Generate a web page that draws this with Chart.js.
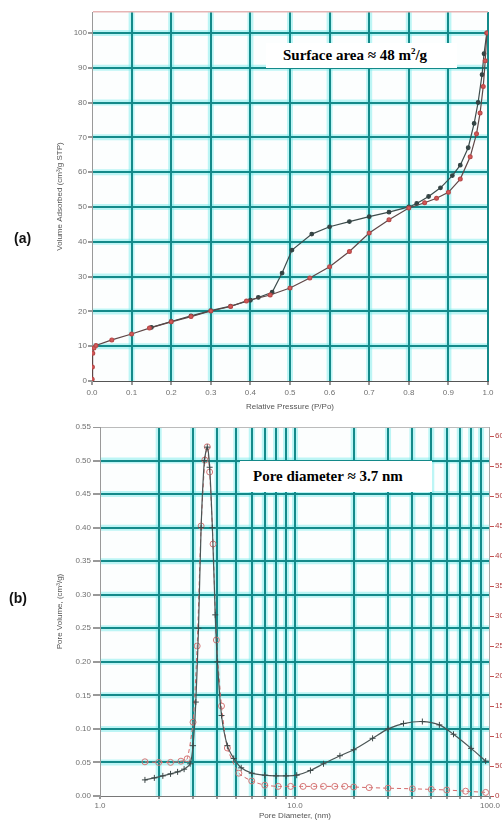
<!DOCTYPE html>
<html lang="en">
<head>
<meta charset="UTF-8">
<title>N2 isotherm and pore size distribution</title>
<script src="https://cdn.jsdelivr.net/npm/chart.js"></script>
<style>
  body { margin: 0; background: #fff; font-family: "Liberation Sans", Arial, sans-serif; }
  #wrap { position: relative; width: 502px; height: 825px; overflow: hidden; }
  canvas { position: absolute; left: 0; }
  #chartA { top: 0; }
  #chartB { top: 415px; }
  .tag { position: absolute; font-weight: bold; font-size: 14px; color: #111; }
  .note { position: absolute; background: #fff; color: #000; white-space: nowrap;
          font-family: "Liberation Serif", "Times New Roman", serif; font-weight: bold; font-size: 15px; }
  .note sup { font-size: 9px; vertical-align: 6px; line-height: 0; }
</style>
</head>
<body>
<div id="wrap">
  <canvas id="chartA" width="502" height="415"></canvas>
  <canvas id="chartB" width="502" height="410"></canvas>
  <div class="tag" style="left:14px; top:230px;">(a)</div>
  <div class="tag" style="left:9px; top:590px;">(b)</div>
  <div class="note" style="left:266px; top:43px; width:174px; height:25px; line-height:25px; padding-left:17px;">Surface area ≈ 48 m<sup>2</sup>/g</div>
  <div class="note" style="left:240px; top:461px; width:179px; height:31px; line-height:31px; padding-left:13px;">Pore diameter ≈ 3.7 nm</div>
</div>

<script>
// (a) isotherm, relative pressure vs volume adsorbed
const adsP = [0.0005, 0.001, 0.002, 0.005, 0.01, 0.05, 0.1, 0.145, 0.2, 0.25, 0.3, 0.35, 0.39, 0.45, 0.5, 0.55, 0.6, 0.65, 0.7, 0.75, 0.8, 0.84, 0.87, 0.9, 0.93, 0.955, 0.971, 0.98, 0.988, 0.993, 0.997];
const adsV = [0.5, 4, 8, 9.5, 10.2, 11.8, 13.5, 15.2, 17, 18.5, 20.1, 21.4, 23, 24.7, 26.7, 29.6, 32.8, 37.2, 42.5, 46.3, 49.7, 51.2, 52.5, 54.2, 58, 64.4, 71, 77, 84.6, 92, 100];
const desP = [0.997, 0.99, 0.985, 0.975, 0.965, 0.95, 0.93, 0.91, 0.88, 0.85, 0.82, 0.8, 0.75, 0.7, 0.65, 0.6, 0.555, 0.505, 0.48, 0.455, 0.42, 0.4, 0.35, 0.3, 0.25, 0.2, 0.15];
const desV = [100, 94, 88, 80, 74, 67, 62, 59, 55.5, 53, 51, 50, 48.5, 47.2, 45.8, 44.3, 42.2, 37.6, 31, 25.5, 24, 23.2, 21.5, 20.2, 18.7, 17.1, 15.4];
const xTicksA = [0, 0.1, 0.2, 0.3, 0.4, 0.5, 0.6, 0.7, 0.8, 0.9, 1.0];
const yTicksA = [0, 10, 20, 30, 40, 50, 60, 70, 80, 90, 100, 106];

// (b) pore size distribution
const psdD = [1.7, 1.9, 2.1, 2.3, 2.5, 2.7, 2.9, 3.0, 3.1, 3.2, 3.3, 3.43, 3.55, 3.65, 3.77, 3.9, 4.0, 4.2, 4.5, 4.85, 5.3, 6.0, 7.0, 8.0, 9.0, 10.2, 12, 14, 17, 20, 25, 30, 36, 45, 55, 65, 80, 95];
const psdV = [0.024, 0.027, 0.030, 0.033, 0.036, 0.040, 0.048, 0.075, 0.14, 0.25, 0.40, 0.50, 0.52, 0.49, 0.40, 0.27, 0.20, 0.12, 0.075, 0.056, 0.042, 0.034, 0.031, 0.030, 0.030, 0.031, 0.038, 0.048, 0.060, 0.069, 0.086, 0.100, 0.108, 0.111, 0.106, 0.092, 0.071, 0.052];
const redD = [1.7, 2.0, 2.3, 2.6, 2.8, 3.0, 3.15, 3.3, 3.45, 3.55, 3.65, 3.8, 3.95, 4.2, 4.5, 5.15, 6.0, 7.0, 8.2, 9.5, 11, 12.5, 14, 16, 18, 20, 24, 30, 40, 50, 60, 75, 95];
const redV = [57, 56, 56, 58, 62, 123, 250, 450, 560, 582, 540, 420, 260, 150, 80, 38, 25, 18, 16, 16, 16, 16, 16, 16, 16, 15, 14, 13, 12, 11, 10, 8, 6];
const xTicksB = [1, 2, 3, 4, 5, 6, 7, 8, 9, 10, 20, 30, 40, 50, 60, 70, 80, 90, 100];
const xLabelsB = [1, 10, 100];
const yTicksB = [0, 0.05, 0.10, 0.15, 0.20, 0.25, 0.30, 0.35, 0.40, 0.45, 0.50, 0.55];
const y2TicksB = [0, 50, 100, 150, 200, 250, 300, 350, 400, 450, 500, 550, 600];

const TEAL = '#148a8a';
const tickFont = { family: 'Liberation Sans', size: 8 };
const titleFont = { family: 'Liberation Sans', size: 8 };

// white plot area plus a soft cyan glow under every grid line
Chart.register({
    id: 'plotBg',
    beforeDraw(chart, args, opts) {
        const a = chart.chartArea;
        const ctx = chart.ctx;
        ctx.save();
        ctx.fillStyle = opts.color || '#fff';
        ctx.fillRect(a.left, a.top, a.right - a.left, a.bottom - a.top);
        ctx.strokeStyle = 'rgba(110, 235, 235, 0.45)';
        ctx.lineWidth = 6;
        Object.values(chart.scales).forEach(s => {
            if (s.options.grid.drawOnChartArea === false) return;
            s.ticks.forEach(t => {
                const p = s.getPixelForValue(t.value);
                ctx.beginPath();
                if (s.isHorizontal()) {
                    if (p <= a.left + 1 || p >= a.right - 1) return;
                    ctx.moveTo(p, a.top); ctx.lineTo(p, a.bottom);
                } else {
                    if (p <= a.top + 1 || p >= a.bottom - 1) return;
                    ctx.moveTo(a.left, p); ctx.lineTo(a.right, p);
                }
                ctx.stroke();
            });
        });
        ctx.restore();
    }
});

function pts(xs, ys) {
    return xs.map((x, i) => ({ x: x, y: ys[i] }));
}

function fixTicks(list) {
    return scale => { scale.ticks = list.map(v => ({ value: v })); };
}

new Chart(document.getElementById('chartA'), {
    type: 'line',
    data: {
        datasets: [{
            label: 'Adsorption',
            data: pts(adsP, adsV),
            borderColor: '#5e4646',
            borderWidth: 1.2,
            pointRadius: 1.9,
            pointBackgroundColor: '#d45a5a',
            pointBorderColor: '#b84848',
            tension: 0
        }, {
            label: 'Desorption',
            data: pts(desP, desV),
            borderColor: '#3c4c4c',
            borderWidth: 1.2,
            pointRadius: 1.8,
            pointBackgroundColor: '#344444',
            pointBorderColor: '#344444',
            tension: 0
        }]
    },
    options: {
        responsive: false,
        animation: false,
        events: [],
        layout: { padding: { left: 52, top: 12, right: 14, bottom: 0 } },
        plugins: { legend: { display: false }, tooltip: { enabled: false }, plotBg: { color: '#fcfefe' } },
        scales: {
            x: {
                type: 'linear', min: 0, max: 1,
                afterBuildTicks: fixTicks(xTicksA),
                afterFit: s => { s.height = 34; },
                ticks: { font: tickFont, color: '#707070', padding: 3, maxRotation: 0, autoSkip: false,
                         callback: v => v.toFixed(1) },
                grid: { color: c => c.tick && c.tick.value === 0 ? 'rgba(0,0,0,0)' : TEAL,
                        lineWidth: 2, tickLength: 4, tickColor: '#999' },
                border: { color: '#555', width: 1 },
                title: { display: true, text: 'Relative Pressure (P/Po)', font: titleFont, color: '#555',
                         padding: { top: 0, bottom: 3 } }
            },
            y: {
                type: 'linear', min: 0, max: 106,
                afterBuildTicks: fixTicks(yTicksA),
                afterFit: s => { s.width = 40; },
                ticks: { font: tickFont, color: '#707070', padding: 1,
                         callback: v => v > 100 ? '' : String(v) },
                grid: { color: c => !c.tick ? TEAL : c.tick.value === 0 ? 'rgba(0,0,0,0)' : c.tick.value > 100 ? '#e6b4b4' : TEAL,
                        lineWidth: c => c.tick && c.tick.value > 100 ? 1.5 : 2, tickLength: 4,
                        tickColor: c => c.tick && c.tick.value > 100 ? 'rgba(0,0,0,0)' : '#999' },
                border: { color: '#999', width: 1 },
                title: { display: true, text: 'Volume Adsorbed (cm³/g STP)', font: titleFont, color: '#555',
                         padding: { top: 3, bottom: 0 } }
            }
        }
    }
});

new Chart(document.getElementById('chartB'), {
    type: 'line',
    data: {
        datasets: [{
            label: 'Pore Volume',
            data: pts(psdD, psdV),
            yAxisID: 'y',
            borderColor: '#4a5555',
            borderWidth: 1.2,
            pointStyle: 'cross',
            pointRadius: 3,
            pointBorderColor: '#3d4848',
            pointBorderWidth: 1,
            tension: 0.25
        }, {
            label: 'dV/dlogD',
            data: pts(redD, redV),
            yAxisID: 'y2',
            borderColor: '#d46a6a',
            borderWidth: 1,
            borderDash: [4, 3],
            pointStyle: 'circle',
            pointRadius: 3,
            pointBackgroundColor: 'rgba(255,255,255,0)',
            pointBorderColor: '#d67878',
            pointBorderWidth: 1,
            tension: 0.2
        }]
    },
    options: {
        responsive: false,
        animation: false,
        events: [],
        layout: { padding: { left: 52, top: 12, right: 0, bottom: 0 } },
        plugins: { legend: { display: false }, tooltip: { enabled: false }, plotBg: { color: '#fcfefe' } },
        scales: {
            x: {
                type: 'logarithmic', min: 1, max: 100,
                afterBuildTicks: fixTicks(xTicksB),
                afterFit: s => { s.height = 29; },
                ticks: { font: tickFont, color: '#707070', padding: 2, maxRotation: 0, autoSkip: false,
                         callback: v => xLabelsB.includes(v) ? v.toFixed(1) : '' },
                grid: { color: c => c.tick && (c.tick.value === 1 || c.tick.value === 100) ? 'rgba(0,0,0,0)' : TEAL,
                        lineWidth: 2, tickLength: 3, tickColor: '#999' },
                border: { color: '#777', width: 1 },
                title: { display: true, text: 'Pore Diameter, (nm)', font: titleFont, color: '#555',
                         padding: { top: 0, bottom: 4 } }
            },
            y: {
                type: 'linear', position: 'left', min: 0, max: 0.55,
                afterBuildTicks: fixTicks(yTicksB),
                afterFit: s => { s.width = 48; },
                ticks: { font: tickFont, color: '#707070', padding: 2, callback: v => v.toFixed(2) },
                grid: { color: c => !c.tick ? TEAL : c.tick.value === 0 ? 'rgba(0,0,0,0)' : c.tick.value > 0.54 ? '#bbbbbb' : TEAL,
                        lineWidth: c => c.tick && c.tick.value > 0.54 ? 1 : 2, tickLength: 7, tickColor: '#999' },
                border: { color: '#999', width: 1 },
                title: { display: true, text: 'Pore Volume, (cm³/g)', font: titleFont, color: '#555',
                         padding: { top: 3, bottom: 0 } }
            },
            y2: {
                type: 'linear', position: 'right', min: 0, max: 615,
                afterBuildTicks: fixTicks(y2TicksB),
                afterFit: s => { s.width = 12; },
                ticks: { font: tickFont, color: '#b03c3c', padding: 1 },
                grid: { drawOnChartArea: false, tickLength: 4, tickColor: '#c45050' },
                border: { color: '#aaa', width: 1 }
            }
        }
    }
});
</script>
</body>
</html>
